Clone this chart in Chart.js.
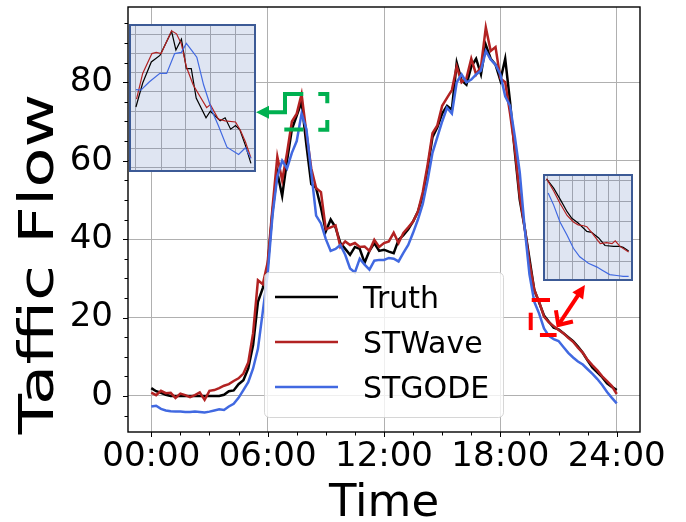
<!DOCTYPE html>
<html><head><meta charset="utf-8">
<script src="https://cdn.jsdelivr.net/npm/chart.js@4.4.0/dist/chart.umd.min.js"></script>
<style>
html,body{margin:0;padding:0;background:#fff;}
#wrap{position:relative;width:686px;height:522px;overflow:hidden;}
#main{position:absolute;left:0;top:0;}
.inset{position:absolute;box-sizing:border-box;border:2px solid #3c5a96;background:#dfe5f2;}
.inset canvas{display:block;}
</style></head><body>
<div id="wrap">
<canvas id="main" width="686" height="522"></canvas>
<div class="inset" style="left:129px;top:24px;width:127px;height:148px;"><canvas id="c1" width="123" height="144"></canvas></div>
<div class="inset" style="left:543px;top:174px;width:90px;height:107px;"><canvas id="c2" width="86" height="103"></canvas></div>
</div>
<script>
// ---- main series (15-minute samples, 00:00 .. 24:00) ----
const truth = [
 2.0, 1.2, 0.8, 0.3, 0.0, 0.0, 0.0, 0.0, 0.0, 0.0, 0.0, 0.0, 0.0, 0.0, 0.0, 0.3,
 1.2, 1.4, 3.0, 4.0, 7.0, 13, 24, 27.5, 33, 47, 57, 51, 60, 68, 71.5, 75,
 64, 54, 53, 48, 42, 45, 43, 39, 37.5, 36, 38, 37.5, 34, 37, 39, 37,
 37.3, 36.8, 36.4, 39.8, 41, 42.5, 44.5, 47, 51, 58, 66, 68.5, 72, 74, 73, 85,
 80.5, 79.4, 84, 86, 82, 89.5, 86, 84.5, 80.5, 86, 75, 62, 50, 43, 35, 27,
 23.8, 20.5, 18.9, 17.4, 17, 16, 15, 14, 12.6, 11, 9, 7.2, 6, 4.8, 3.2, 2.3,
 1.5
];
const stwave = [
 0.85, 0.2, 1.3, 0.7, 0.8, -0.5, 0.6, 0.2, -0.3, 0.2, 0.9, -1.0, 1.3, 1.5, 2.0, 2.6,
 3.0, 3.8, 4.5, 5.7, 8.5, 16, 29.5, 28.5, 34, 48, 61, 55, 62, 70, 72, 77,
 67, 58, 53, 52, 42.5, 43, 43.5, 38, 39.4, 38.5, 39, 38, 38.1, 37, 39.8, 38,
 39, 39.4, 41.6, 39, 41.6, 43, 44.5, 47, 52, 59, 67, 69, 74, 76, 78, 84,
 80, 81, 86, 82, 84, 94, 88, 89, 81, 80, 72, 63, 51, 43, 34, 27,
 24, 20.2, 18.8, 17.8, 16.8, 16, 14.8, 13.8, 12.3, 11, 9.2, 7.8, 6.5, 5, 3.8, 2.5,
 0.5
];
const stgode = [
 -2.7, -2.5, -3.3, -3.7, -3.9, -4.0, -4.0, -4.1, -4.1, -4.0, -4.1, -4.2, -4.0, -3.7, -3.4, -3.6,
 -2.7, -2.0, -0.5, 1.5, 3.5, 7, 12, 21.5, 31, 46, 56, 60, 58, 62, 65, 72,
 68, 57, 46, 44, 40, 37, 37.5, 38.5, 36, 32.5, 31.5, 35, 33.5, 32.2, 34.5, 34.7,
 34.7, 35.2, 35, 34.3, 36.5, 38.5, 41.6, 45, 49, 55, 62, 66, 70, 73.5, 72, 80,
 82, 80, 80.7, 82, 83, 88, 85.8, 84.5, 82, 76.4, 74, 66, 57, 43, 31, 24,
 21, 17.2, 15.3, 14.5, 14, 12.5, 11, 9.8, 8.8, 8, 6.8, 5.6, 4.3, 2.8, 1, -0.5,
 -1.9
];
const hours = truth.map((_, i) => i * 0.25);
const xTickValues = [0, 6, 12, 18, 24];
const xTickLabels = ['00:00', '06:00', '12:00', '18:00', '24:00'];
const yTickValues = [0, 20, 40, 60, 80];
const seriesNames = ['Truth', 'STWave', 'STGODE'];

// ---- inset 1 (zoom of the morning peak) [hour, flow] ----
const in1Truth = [[7.08,65.5],[7.19,69.5],[7.33,73.0],[7.47,74.1],[7.66,78.1],[7.73,75.0],[7.82,76.8],[7.90,71.9],[7.98,71.9],[8.06,67.0],[8.22,63.7],[8.29,64.8],[8.45,63.2],[8.53,63.7],[8.62,61.8],[8.70,62.4],[8.77,61.7],[8.86,59.1],[8.95,56.1]];
const in1Wave = [[7.09,66.8],[7.19,71.1],[7.34,74.4],[7.41,74.6],[7.49,74.4],[7.66,78.2],[7.74,77.7],[7.82,76.0],[7.90,72.2],[8.01,69.2],[8.12,67.3],[8.23,65.4],[8.29,65.9],[8.42,63.5],[8.53,63.2],[8.70,63.0],[8.78,61.6],[8.86,59.7],[8.95,57.0]];
const in1Gode = [[7.08,68.4],[7.16,68.3],[7.30,69.7],[7.47,71.1],[7.58,71.1],[7.71,74.4],[7.82,74.6],[7.90,76.1],[7.99,74.9],[8.07,73.8],[8.18,69.2],[8.32,64.8],[8.42,62.4],[8.56,58.8],[8.75,57.6],[8.86,58.7],[8.95,56.9]];
const in1GridX = [7.08, 7.49, 7.89, 8.30, 8.70];
const in1GridY = [77.6, 74.4, 71.3, 68.1, 64.8, 61.7, 58.6, 55.4];

// ---- inset 2 (zoom of the evening decline) [hour, flow] ----
const in2Truth = [[19.92,24.6],[20.01,23.6],[20.10,22.3],[20.18,21.1],[20.24,20.4],[20.32,19.9],[20.43,19.0],[20.49,18.9],[20.58,18.3],[20.66,17.5],[20.77,17.4],[20.85,17.4],[20.89,17.3],[20.96,16.9]];
const in2Wave = [[19.92,24.6],[20.01,23.3],[20.09,22.0],[20.18,20.7],[20.26,20.0],[20.32,19.7],[20.39,19.6],[20.43,19.5],[20.49,18.9],[20.60,17.7],[20.68,17.8],[20.75,17.7],[20.79,18.0],[20.85,17.4],[20.96,16.8]];
const in2Gode = [[19.94,23.1],[20.01,21.8],[20.09,20.0],[20.18,18.6],[20.26,17.2],[20.34,16.3],[20.45,15.6],[20.56,15.2],[20.62,14.9],[20.72,14.4],[20.81,14.3],[20.89,14.2],[20.96,14.2]];
const in2GridX = [19.93, 20.09, 20.25, 20.40, 20.55, 20.70, 20.85];
const in2GridY = [24.47, 22.16, 20.03, 17.9, 15.77];

// ---- callout marks, in data units [hour, flow] ----
const greenMarks = [
 [[5.776,72.34],[6.895,72.34],[6.895,77.01],[7.839,77.01]],
 [[8.612,77.01],[9.076,77.01],[9.076,74.64]],
 [[9.076,70.38],[9.076,67.9],[8.612,67.9]],
 [[6.859,67.95],[7.839,67.95]]
];
const greenTip = [5.40, 72.34];
const redMarks = [
 [[19.616,24.47],[20.56,24.47]],
 [[19.565,21.23],[19.565,16.8]],
 [[20.04,15.54],[20.9,15.54]]
];
const redArrow = [[20.99,18.09],[22.36,28.3]];

const COLORS = ['#000000', '#b22222', '#4169e1'];
const FONT = '"DejaVu Sans", "Liberation Sans", sans-serif';
Chart.defaults.font.family = FONT;

const pts = vals => vals.map((v, i) => ({x: hours[i], y: v}));
const pairs = arr => arr.map(p => ({x: p[0], y: p[1]}));

const deco = {
  id: 'deco',
  afterDatasetsDraw(chart) {
    const {ctx, scales: {x, y}} = chart;
    const P = p => [x.getPixelForValue(p[0]), y.getPixelForValue(p[1])];
    ctx.save();
    ctx.lineCap = 'butt'; ctx.lineJoin = 'miter';
    // green callout
    ctx.strokeStyle = '#00b050'; ctx.fillStyle = '#00b050'; ctx.lineWidth = 4;
    greenMarks.forEach(seg => {
      ctx.beginPath();
      seg.forEach((p, i) => { const q = P(p); i ? ctx.lineTo(q[0], q[1]) : ctx.moveTo(q[0], q[1]); });
      ctx.stroke();
    });
    const gt = P(greenTip);
    ctx.beginPath(); ctx.moveTo(gt[0], gt[1]); ctx.lineTo(gt[0] + 13, gt[1] - 6.5); ctx.lineTo(gt[0] + 13, gt[1] + 6.5); ctx.closePath(); ctx.fill();
    // red callout
    ctx.strokeStyle = '#ff0000'; ctx.fillStyle = '#ff0000'; ctx.lineWidth = 4;
    redMarks.forEach(seg => {
      ctx.beginPath();
      seg.forEach((p, i) => { const q = P(p); i ? ctx.lineTo(q[0], q[1]) : ctx.moveTo(q[0], q[1]); });
      ctx.stroke();
    });
    const a0 = P(redArrow[0]), a1 = P(redArrow[1]);
    const ang = Math.atan2(a1[1] - a0[1], a1[0] - a0[0]);
    ctx.beginPath(); ctx.moveTo(a0[0], a0[1]); ctx.lineTo(a1[0] - 8 * Math.cos(ang), a1[1] - 8 * Math.sin(ang)); ctx.stroke();
    ctx.beginPath();
    ctx.moveTo(a1[0], a1[1]);
    ctx.lineTo(a1[0] - 13 * Math.cos(ang) + 6.5 * Math.sin(ang), a1[1] - 13 * Math.sin(ang) - 6.5 * Math.cos(ang));
    ctx.lineTo(a1[0] - 13 * Math.cos(ang) - 6.5 * Math.sin(ang), a1[1] - 13 * Math.sin(ang) + 6.5 * Math.cos(ang));
    ctx.closePath(); ctx.fill();
    ctx.beginPath();
    ctx.moveTo(a0[0] + 15 * Math.cos(ang - 0.75), a0[1] + 15 * Math.sin(ang - 0.75));
    ctx.lineTo(a0[0], a0[1]);
    ctx.lineTo(a0[0] + 15 * Math.cos(ang + 0.75), a0[1] + 15 * Math.sin(ang + 0.75));
    ctx.stroke();

    // legend
    const L = 264, T = 272, W = 239, H = 145;
    ctx.beginPath(); ctx.roundRect(L + 0.5, T + 0.5, W, H, 5);
    ctx.fillStyle = 'rgba(255,255,255,0.8)'; ctx.fill();
    ctx.strokeStyle = 'rgba(204,204,204,0.8)'; ctx.lineWidth = 1; ctx.stroke();
    ctx.font = '30px ' + FONT; ctx.textAlign = 'left'; ctx.textBaseline = 'alphabetic';
    seriesNames.forEach((name, i) => {
      const ry = 297 + i * 45;
      ctx.strokeStyle = COLORS[i]; ctx.lineWidth = 2.5;
      ctx.beginPath(); ctx.moveTo(275, ry); ctx.lineTo(338, ry); ctx.stroke();
      ctx.fillStyle = '#000'; ctx.fillText(name, 363, ry + 11);
    });
    ctx.restore();
  },
  afterDraw(chart) {
    const {ctx, chartArea: a, scales: {x, y}} = chart;
    ctx.save();
    ctx.strokeStyle = '#000'; ctx.lineWidth = 1;
    for (let v = -5; v <= 95; v += 5) {
      const p = Math.round(y.getPixelForValue(v)) + 0.5;
      const len = (v % 20 === 0) ? 5 : 3.5;
      ctx.beginPath(); ctx.moveTo(a.left - len, p); ctx.lineTo(a.left, p); ctx.stroke();
    }
    for (let h = 0; h <= 24.01; h += 1.5) {
      const p = Math.round(x.getPixelForValue(h)) + 0.5;
      const len = (h % 6 === 0) ? 5 : 3.5;
      ctx.beginPath(); ctx.moveTo(p, a.bottom); ctx.lineTo(p, a.bottom + len); ctx.stroke();
    }
    ctx.lineWidth = 1.4;
    ctx.strokeRect(a.left, a.top, a.right - a.left, a.bottom - a.top);
    ctx.fillStyle = '#000';
    ctx.font = '45px ' + FONT; ctx.textAlign = 'center'; ctx.textBaseline = 'alphabetic';
    ctx.fillText('Time', (a.left + a.right) / 2, 516);
    ctx.save();
    ctx.translate(53, 264); ctx.rotate(-Math.PI / 2); ctx.scale(1.37, 1);
    ctx.font = '48px ' + FONT;
    ctx.fillText('Taffic Flow', 0, 0);
    ctx.restore();
    ctx.restore();
  }
};

new Chart(document.getElementById('main'), {
  type: 'line',
  data: {datasets: [
    {label: seriesNames[0], data: pts(truth), borderColor: COLORS[0], borderWidth: 2.5, pointRadius: 0, order: 3},
    {label: seriesNames[1], data: pts(stwave), borderColor: COLORS[1], borderWidth: 2.5, pointRadius: 0, order: 2},
    {label: seriesNames[2], data: pts(stgode), borderColor: COLORS[2], borderWidth: 2.5, pointRadius: 0, order: 1}
  ]},
  options: {
    responsive: false, animation: false, devicePixelRatio: 1, events: [],
    layout: {padding: {left: 0, right: 46, top: 7, bottom: 0}},
    plugins: {legend: {display: false}, tooltip: {enabled: false}},
    scales: {
      x: {type: 'linear', min: -1.2, max: 25.2,
        afterBuildTicks: s => { s.ticks = xTickValues.map(v => ({value: v})); },
        afterFit: s => { s.height = 90; s.paddingLeft = 0; s.paddingRight = 0; },
        ticks: {callback: (v, i) => xTickLabels[i], font: {size: 34}, color: '#000', padding: 5, maxRotation: 0, autoSkip: false},
        grid: {color: '#b0b0b0', lineWidth: 1, drawTicks: false}, border: {display: false}},
      y: {type: 'linear', min: -9.2, max: 99.2,
        afterBuildTicks: s => { s.ticks = yTickValues.map(v => ({value: v})); },
        afterFit: s => { s.width = 128; s.paddingTop = 0; s.paddingBottom = 0; },
        ticks: {font: {size: 34}, color: '#000', padding: 15},
        grid: {color: '#b0b0b0', lineWidth: 1, drawTicks: false}, border: {display: false}}
    }
  },
  plugins: [deco]
});

function inset(id, series, xr, yr, gx, gy) {
  new Chart(document.getElementById(id), {
    type: 'line',
    data: {datasets: series.map((s, i) => ({data: pairs(s), borderColor: COLORS[i], borderWidth: 1.2, pointRadius: 0, order: 3 - i}))},
    options: {
      responsive: false, animation: false, devicePixelRatio: 1, events: [],
      layout: {padding: 0},
      plugins: {legend: {display: false}, tooltip: {enabled: false}},
      scales: {
        x: {type: 'linear', min: xr[0], max: xr[1], afterBuildTicks: s => { s.ticks = gx.map(v => ({value: v})); },
          afterFit: s => { s.height = 0; s.paddingLeft = 0; s.paddingRight = 0; }, ticks: {display: false},
          grid: {color: '#9ea3b0', lineWidth: 1, drawTicks: false}, border: {display: false}},
        y: {type: 'linear', min: yr[0], max: yr[1], afterBuildTicks: s => { s.ticks = gy.map(v => ({value: v})); },
          afterFit: s => { s.width = 0; s.paddingTop = 0; s.paddingBottom = 0; }, ticks: {display: false},
          grid: {color: '#9ea3b0', lineWidth: 1, drawTicks: false}, border: {display: false}}
      }
    }
  });
}
inset('c1', [in1Truth, in1Wave, in1Gode], [7.0, 9.0], [55.0, 79.0], in1GridX, in1GridY);
inset('c2', [in2Truth, in2Wave, in2Gode], [19.9, 20.99], [13.93, 24.9], in2GridX, in2GridY);
</script>
</body></html>
